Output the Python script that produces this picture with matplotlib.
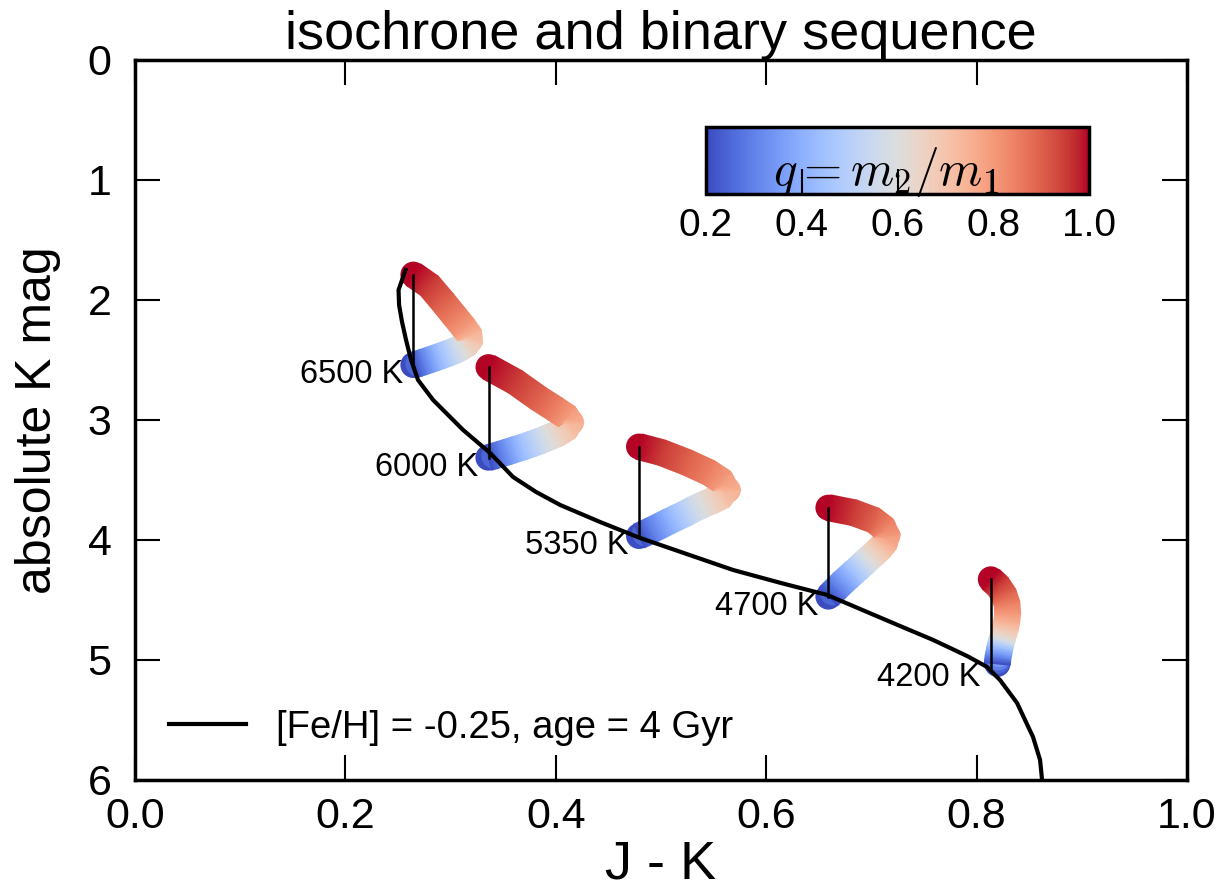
import numpy as np
import matplotlib
matplotlib.use("Agg")
import matplotlib.pyplot as plt
from matplotlib.colors import Normalize
from matplotlib.cm import ScalarMappable
from matplotlib.ticker import FormatStrFormatter

plt.rcParams['font.family'] = ['Liberation Sans', 'DejaVu Sans']
plt.rcParams['mathtext.fontset'] = 'cm'

# isochrone, [Fe/H] = -0.25, 4 Gyr
iso_jk = [0.2571, 0.2505, 0.2510, 0.2538, 0.2576, 0.2624, 0.2690, 0.2833,
          0.3118, 0.3375, 0.3593, 0.3812, 0.4040, 0.4420, 0.4800, 0.5684,
          0.6137, 0.6578, 0.6958, 0.7272, 0.7586, 0.7909, 0.8099, 0.8222,
          0.8384, 0.8536, 0.8603, 0.8622]
iso_k = [1.750, 1.917, 2.042, 2.183, 2.333, 2.500, 2.667, 2.833,
         3.083, 3.275, 3.475, 3.600, 3.708, 3.850, 3.983, 4.250,
         4.358, 4.458, 4.600, 4.717, 4.833, 4.967, 5.058, 5.167,
         5.358, 5.642, 5.833, 6.000]

# primaries
teff = [6500, 6000, 5350, 4700, 4200]
prim_jk = [0.2646, 0.3360, 0.4791, 0.6591, 0.8135]
prim_k = [2.542, 3.314, 3.967, 4.472, 5.070]

# mass ratios along each binary sequence
q = [0.20, 0.25, 0.30, 0.35, 0.40, 0.45, 0.50, 0.55, 0.60,
     0.65, 0.70, 0.75, 0.80, 0.85, 0.90, 0.95, 1.00]

bin_jk_6500 = [0.2646, 0.2693, 0.2741, 0.2798, 0.2855, 0.2915, 0.2978, 0.3042, 0.3099,
               0.3153, 0.3184, 0.3178, 0.3127, 0.3042, 0.2931, 0.2798, 0.2646]
bin_k_6500 = [2.542, 2.531, 2.517, 2.500, 2.483, 2.464, 2.444, 2.422, 2.397,
              2.369, 2.336, 2.292, 2.231, 2.139, 2.019, 1.881, 1.789]

bin_jk_6000 = [0.3359, 0.3416, 0.3479, 0.3549, 0.3619, 0.3691, 0.3771, 0.3850, 0.3929,
               0.4018, 0.4103, 0.4144, 0.4103, 0.3992, 0.3834, 0.3612, 0.3360]
bin_k_6000 = [3.314, 3.300, 3.283, 3.264, 3.244, 3.225, 3.200, 3.175, 3.147,
              3.114, 3.069, 3.019, 2.972, 2.908, 2.819, 2.681, 2.560]

bin_jk_5350 = [0.4791, 0.4848, 0.4911, 0.4990, 0.5070, 0.5149, 0.5228, 0.5307, 0.5387,
               0.5482, 0.5577, 0.5634, 0.5577, 0.5450, 0.5244, 0.5006, 0.4791]
bin_k_5350 = [3.967, 3.944, 3.917, 3.883, 3.847, 3.814, 3.781, 3.744, 3.711,
              3.675, 3.636, 3.583, 3.508, 3.436, 3.353, 3.272, 3.222]

bin_jk_4700 = [0.6591, 0.6632, 0.6676, 0.6727, 0.6781, 0.6828, 0.6876, 0.6923, 0.6971,
               0.7025, 0.7082, 0.7129, 0.7151, 0.7113, 0.7018, 0.6828, 0.6591]
bin_k_4700 = [4.472, 4.436, 4.397, 4.353, 4.311, 4.272, 4.236, 4.197, 4.158,
              4.117, 4.069, 4.019, 3.964, 3.897, 3.833, 3.772, 3.731]

bin_jk_4200 = [0.8197, 0.8200, 0.8203, 0.8210, 0.8216, 0.8222, 0.8229, 0.8235, 0.8245,
               0.8257, 0.8273, 0.8286, 0.8295, 0.8289, 0.8260, 0.8203, 0.8135]
bin_k_4200 = [5.033, 5.006, 4.978, 4.950, 4.919, 4.894, 4.869, 4.847, 4.822,
              4.783, 4.736, 4.681, 4.611, 4.533, 4.458, 4.383, 4.328]

bin_jk = [bin_jk_6500, bin_jk_6000, bin_jk_5350, bin_jk_4700, bin_jk_4200]
bin_k = [bin_k_6500, bin_k_6000, bin_k_5350, bin_k_4700, bin_k_4200]

cmap = plt.get_cmap('coolwarm')
norm = Normalize(vmin=0.2, vmax=1.0)
TUBE_PX = 26.0


def draw_tube(ax, jk, k, qv, width_px):
    """Thick band along (jk, k), colour shaded smoothly with q."""
    pts = ax.transData.transform(np.column_stack([jk, k]))
    d = np.gradient(pts, axis=0)
    d /= np.linalg.norm(d, axis=1)[:, None]
    nrm = np.column_stack([-d[:, 1], d[:, 0]])
    r = 0.5 * width_px
    inv = ax.transData.inverted()
    a = inv.transform(pts + r * nrm)
    b = inv.transform(pts - r * nrm)
    X = np.vstack([a[:, 0], b[:, 0]])
    Y = np.vstack([a[:, 1], b[:, 1]])
    C = np.vstack([qv, qv])
    # round ends / outer corners underneath the shaded band
    s = (width_px * 72.0 / fig.dpi) ** 2
    ax.scatter(jk, k, c=qv, cmap=cmap, norm=norm, s=s, lw=0, zorder=1.9)
    ax.pcolormesh(X, Y, C, shading='gouraud', cmap=cmap, norm=norm,
                  zorder=2)


fig = plt.figure(figsize=(12.32, 8.92), dpi=100)
ax = fig.add_axes([0.1096, 0.1256, 0.8539, 0.8072])
ax.set_xlim(0.0, 1.0)
ax.set_ylim(6, 0)

for jk, k in zip(bin_jk, bin_k):
    draw_tube(ax, jk, k, q, TUBE_PX)

ax.plot(iso_jk, iso_k, color='k', lw=3, zorder=3,
        label='[Fe/H] = -0.25, age = 4 Gyr')

for t, x0, y0, k in zip(teff, prim_jk, prim_k, bin_k):
    ax.plot([x0, x0], [y0, k[-1]], color='k', lw=1.8, zorder=4)
    ax.text(x0 - 0.01, y0 + 0.08, '%d K' % t, ha='right', va='center',
            fontsize=23.5, zorder=5)

ax.set_xlim(0.0, 1.0)
ax.set_ylim(6, 0)
ax.set_xticks([0.0, 0.2, 0.4, 0.6, 0.8, 1.0])
ax.set_yticks([0, 1, 2, 3, 4, 5, 6])
ax.xaxis.set_major_formatter(FormatStrFormatter('%.1f'))
ax.tick_params(direction='in', length=18, width=1.5, labelsize=31,
               top=True, right=True)
ax.tick_params(axis='x', pad=12)
ax.tick_params(axis='y', pad=17)
for s in ax.spines.values():
    s.set_linewidth(2.5)

ax.set_xlabel('J - K', fontsize=39, labelpad=2)
ax.set_ylabel('absolute K mag', fontsize=36, labelpad=19)
ax.set_title('isochrone and binary sequence', fontsize=39, pad=8)

leg = ax.legend(loc='lower left', frameon=False, fontsize=27.5)

# colour bar for q
cax = fig.add_axes([0.5731, 0.7825, 0.3109, 0.0751])
cb = fig.colorbar(ScalarMappable(norm=norm, cmap=cmap), cax=cax,
                  orientation='horizontal', ticks=[0.2, 0.4, 0.6, 0.8, 1.0])
cb.outline.set_linewidth(2.5)
cax.tick_params(direction='in', length=18, width=1.5, labelsize=28, pad=10)
cax.xaxis.set_major_formatter(FormatStrFormatter('%.1f'))
cax.text(0.47, 0.33, r'$q = m_2/m_1$', transform=cax.transAxes,
         ha='center', va='center', fontsize=35.5)

fig.savefig('out.png', dpi=100)
